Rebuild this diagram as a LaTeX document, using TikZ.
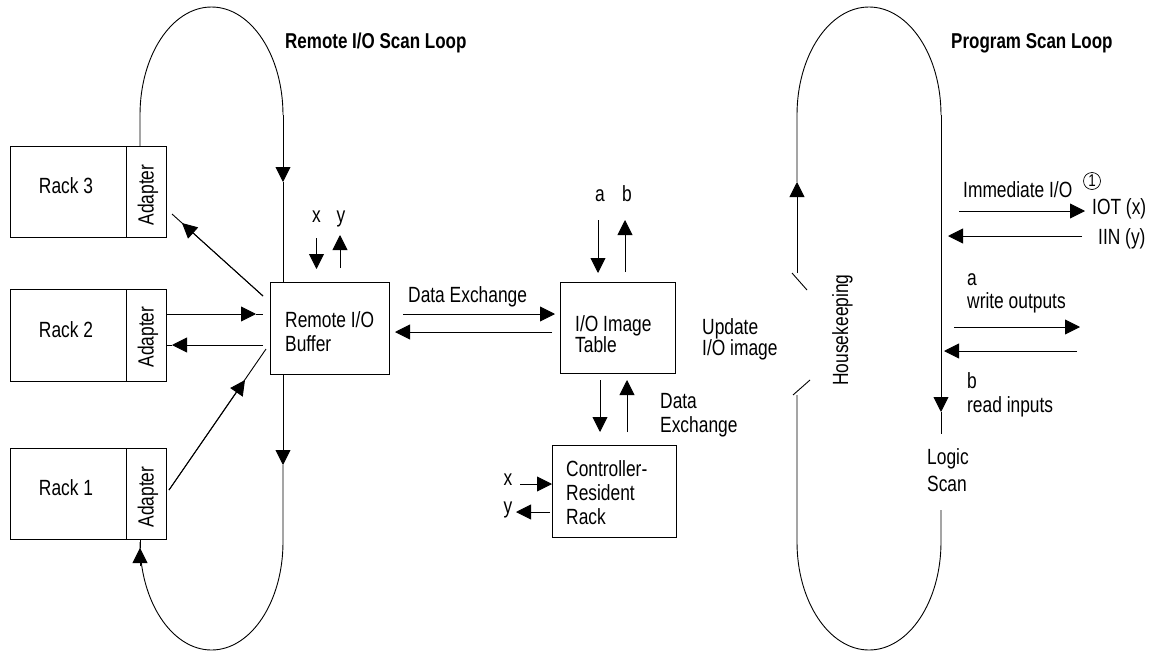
\documentclass[tikz,border=0pt]{standalone}
\usepackage{fontspec}
\setmainfont{Liberation Sans}[FakeStretch=0.79]
\usetikzlibrary{arrows.meta,calc}
\begin{document}
\begin{tikzpicture}[x=1pt,y=-1pt,
  ln/.style={line width=0.9pt},
  arr/.style={line width=0.9pt,-{Triangle[length=15pt,width=15pt]}},
  box/.style={draw,line width=0.9pt,inner sep=0pt,anchor=north west},
  txt/.style={inner sep=0pt,font=\fontsize{22}{24}\selectfont},
  ttl/.style={inner sep=0pt,font=\bfseries\fontsize{21.5}{24}\selectfont,anchor=base west},
  lbl/.style={txt,anchor=base west},
  ml/.style={txt,anchor=north west,align=left}]
\useasboundingbox (0,0) rectangle (1160,651);

% titles
\node[ttl] (t1) at (285,48) {Remote I/O Scan Loop};
\node[ttl] (t2) at (951,48) {Program Scan Loop};

% racks
\node[box,minimum width=116,minimum height=91] (r3) at (10,146) {};
\node[box,minimum width=40,minimum height=91] (r3a) at (126,146) {};
\node[box,minimum width=116,minimum height=92] (r2) at (10,289) {};
\node[box,minimum width=40,minimum height=92] (r2a) at (126,289) {};
\node[box,minimum width=116,minimum height=91] (r1) at (10,448) {};
\node[box,minimum width=40,minimum height=91] (r1a) at (126,448) {};
\node[txt,anchor=base] (r3t) at (66,193) {Rack 3};
\node[txt,anchor=base] (r2t) at (66,337) {Rack 2};
\node[txt,anchor=base] (r1t) at (66,495) {Rack 1};
\node[txt,rotate=90] (r3at) at (148,195) {Adapter};
\node[txt,rotate=90] (r2at) at (148,337) {Adapter};
\node[txt,rotate=90] (r1at) at (148,497) {Adapter};

% central boxes
\node[box,minimum width=119,minimum height=92] (buf) at (270,282) {};
\node[ml] (buft) at (285,311) {Remote I/O\\Buffer};
\node[box,minimum width=115,minimum height=91] (tbl) at (560,282) {};
\node[ml,font=\fontsize{22}{20}\selectfont] (tblt) at (575,315) {I/O Image\\Table};
\node[box,minimum width=124,minimum height=92] (ctl) at (552,445) {};
\node[ml] (ctlt) at (566,460) {Controller-\\Resident\\Rack};

% left loop
\coordinate (lt1) at (283,182);
\coordinate (lb1) at (283,465);
\draw[ln] (r3a.north -| 140,0) -- (140,115)
  arc[start angle=180,end angle=360,x radius=71.5,y radius=108];
\draw[arr] (283,115) -- (lt1);
\draw[ln] (lt1) -- (buf.north -| lt1);
\draw[arr] (buf.south -| lb1) -- (lb1);
\draw[ln] (lb1) -- (283,542)
  arc[start angle=0,end angle=180,x radius=71.5,y radius=108];
\draw[arr] (140,566) -- (140,548);
\draw[ln] (140,548) -- (r1a.south -| 140,0);

% rack connectors
\draw[ln] (263,296) -- (172,214);
\draw[arr] (263,296) -- (182,223);
\draw[arr] (r2a.east |- 0,314) -- (256,314);
\draw[ln] (256,314) -- (263,314);
\draw[arr] (263,345) -- (172,345);
\draw[ln] (172,345) -- (r2a.east |- 0,345);
\draw[ln] (169,490) -- (266,349);
\draw[arr] (169,490) -- (245,380);

% x y at buffer
\node[lbl,anchor=base] (bx) at (316.5,222) {x};
\node[lbl,anchor=base] (by) at (341,222) {y};
\draw[arr] (316.5,238) -- (316.5,269);
\draw[arr] (340,268) -- (340,235);

% data exchange buffer <-> table
\node[lbl] (dx1) at (408,302) {Data Exchange};
\draw[arr] (403,314) -- (555,314);
\draw[arr] (552,332) -- (395,332);

% a b at table
\node[lbl,anchor=base] (ta) at (600,201) {a};
\node[lbl,anchor=base] (tb) at (627,201) {b};
\draw[arr] (598,220) -- (598,273);
\draw[arr] (625,272) -- (625,220);
\node[ml,font=\fontsize{22}{20}\selectfont] (upd) at (702,318) {Update\\I/O image};

% table <-> controller
\draw[arr] (600,380) -- (600,432);
\draw[arr] (627,432) -- (627,380);
\node[ml] (dx2) at (660,393) {Data\\Exchange};

% x y at controller
\node[lbl,anchor=base] (cx) at (508,485) {x};
\node[lbl,anchor=base] (cy) at (508,513) {y};
\draw[arr] (520,484) -- (ctl.west |- 0,484);
\draw[arr] (550,512) -- (516,512);

% program scan loop
\draw[arr] (797,273) -- (797,182);
\draw[ln] (797,182) -- (797,115)
  arc[start angle=180,end angle=360,x radius=72,y radius=108];
\draw[arr] (941,115) -- (941,412);
\draw[ln] (941,412) -- (941,434);
\draw[ln] (941,510) -- (941,542)
  arc[start angle=0,end angle=180,x radius=72,y radius=108] -- (797,395);
\draw[ln] (792,273) -- (807,290);
\draw[ln] (793,395) -- (810,380);
\node[txt,rotate=90] (hk) at (842.5,330) {Housekeeping};
\node[ml,font=\fontsize{22}{27}\selectfont] (ls) at (927,448) {Logic\\Scan};

% right side
\node[lbl] (imm) at (963,197) {Immediate I/O};
\node[circle,draw,line width=0.7pt,inner sep=0pt,minimum size=17pt,font=\fontsize{17}{18}\selectfont] (c1) at (1092,181) {1};
\node[lbl] (iot) at (1092,214) {IOT (x)};
\node[lbl] (iin) at (1098,244) {IIN (y)};
\draw[arr] (959,211) -- (1085,211);
\draw[arr] (1082,236) -- (948,236);
\node[lbl] (wa) at (967,285) {a};
\node[lbl] (wo) at (967,308) {write outputs};
\draw[arr] (954,327) -- (1080,327);
\draw[arr] (1077,351) -- (944,351);
\node[lbl] (rb) at (967,388) {b};
\node[lbl] (ri) at (967,412) {read inputs};
\end{tikzpicture}
\end{document}
